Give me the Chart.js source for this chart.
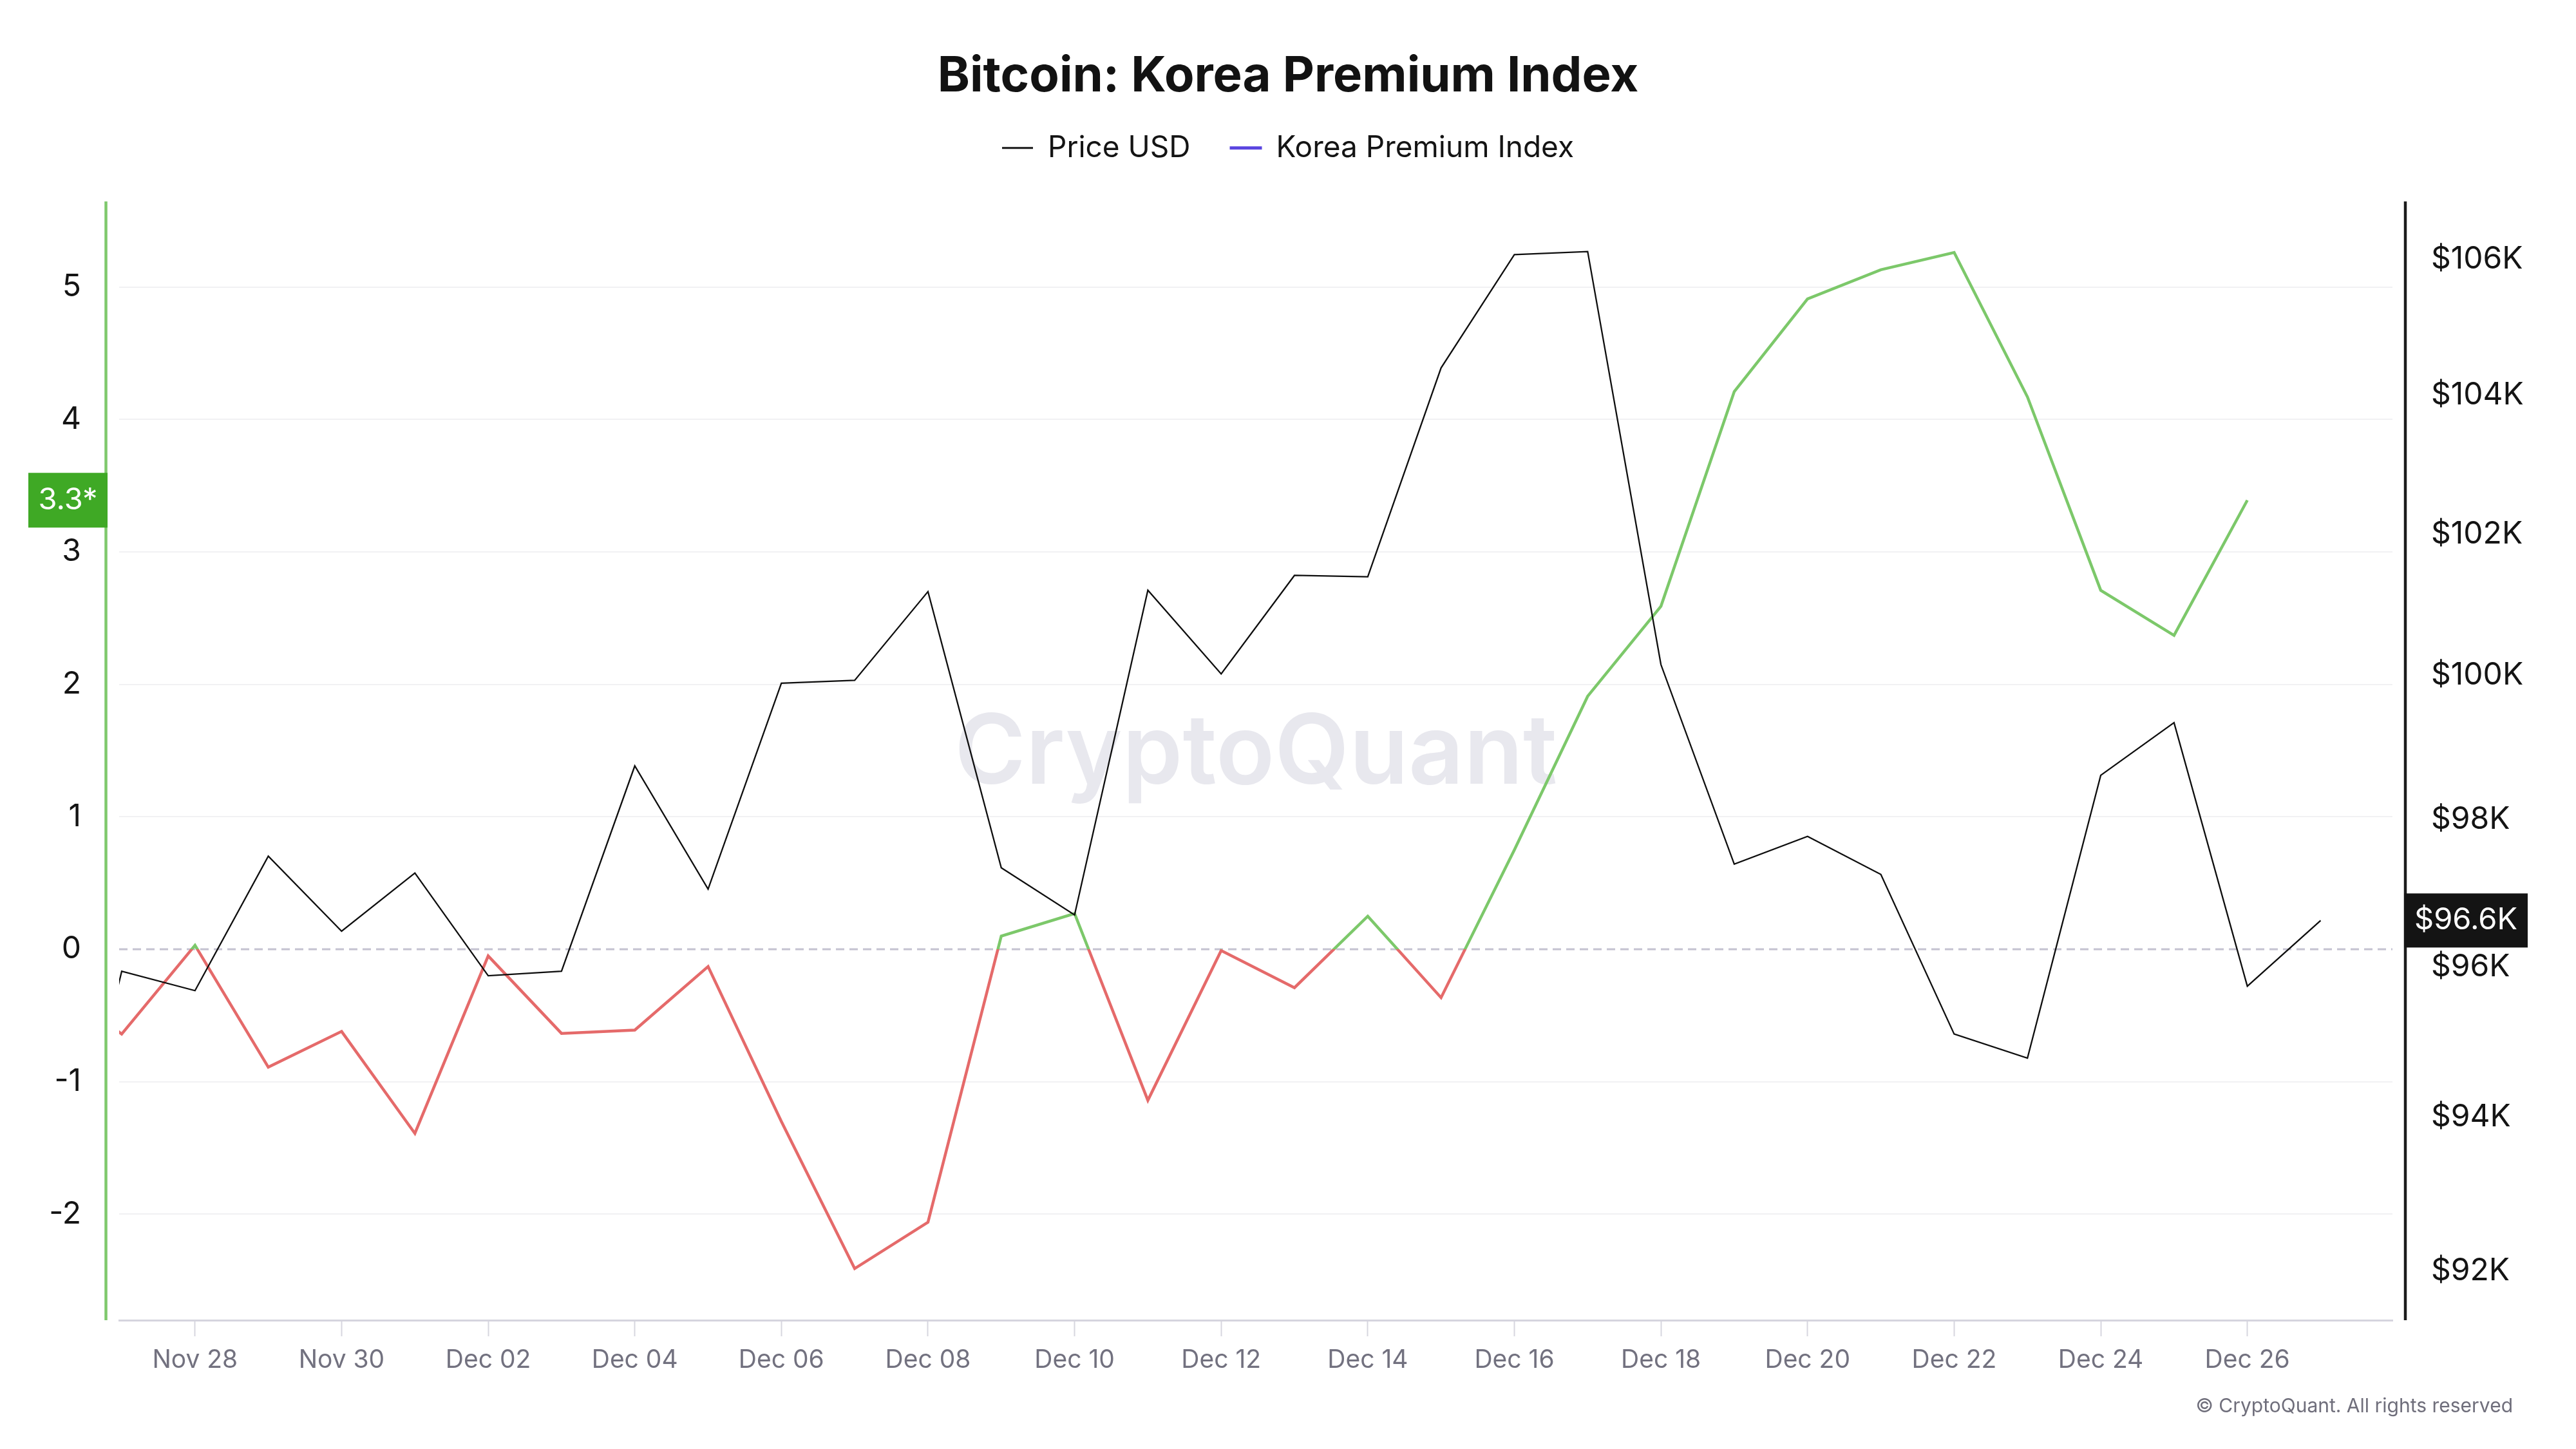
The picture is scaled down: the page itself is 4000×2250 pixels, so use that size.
<!DOCTYPE html>
<html>
<head>
<meta charset="utf-8">
<title>Bitcoin: Korea Premium Index</title>
<script src="https://cdn.jsdelivr.net/npm/chart.js@4.4.1/dist/chart.umd.min.js"></script>
<style>
  html, body { margin: 0; padding: 0; background: #ffffff; }
</style>
</head>
<body>
<canvas id="premiumChart" width="4000" height="2250"></canvas>
<script>
// daily points, Nov 26 is only partly visible at the left edge
const days = [
  'Nov 26', 'Nov 27', 'Nov 28', 'Nov 29', 'Nov 30', 'Dec 01', 'Dec 02', 'Dec 03',
  'Dec 04', 'Dec 05', 'Dec 06', 'Dec 07', 'Dec 08', 'Dec 09', 'Dec 10', 'Dec 11',
  'Dec 12', 'Dec 13', 'Dec 14', 'Dec 15', 'Dec 16', 'Dec 17', 'Dec 18', 'Dec 19',
  'Dec 20', 'Dec 21', 'Dec 22', 'Dec 23', 'Dec 24', 'Dec 25', 'Dec 26', 'Dec 27'
];
const priceUsd = [
  91900, 95940, 95680, 97500, 96480, 97270, 95880, 95940,
  98740, 97050, 99890, 99930, 101180, 97340, 96700, 101200,
  100020, 101410, 101390, 104400, 106070, 106115, 100150, 97390,
  97770, 97250, 95100, 94780, 98610, 99340, 95740, 96625
];
const koreaPremium = [
  -0.2, -0.64, 0.03, -0.89, -0.62, -1.39, -0.05, -0.635,
  -0.61, -0.13, -1.30, -2.41, -2.06, 0.10, 0.27, -1.14,
  -0.01, -0.29, 0.25, -0.365, 0.75, 1.91, 2.59, 4.21,
  4.91, 5.13, 5.26, 4.17, 2.71, 2.37, 3.39
];
const xTickLabels = [
  'Nov 28', 'Nov 30', 'Dec 02', 'Dec 04', 'Dec 06', 'Dec 08', 'Dec 10', 'Dec 12',
  'Dec 14', 'Dec 16', 'Dec 18', 'Dec 20', 'Dec 22', 'Dec 24', 'Dec 26'
];
const premiumTicks = [-2, -1, 0, 1, 2, 3, 4, 5];
const priceTicks = [92000, 94000, 96000, 98000, 100000, 102000, 104000, 106000];

const green = '#7cc86a';
const red = '#e56a6a';
const legendColors = ['#161616', '#5a45e0'];

Chart.defaults.font.family = 'Inter, "Noto Sans", sans-serif';
Chart.defaults.color = '#141414';

// green above zero, red below, switching exactly at the zero pixel
const premiumStroke = (context) => {
    const chart = context.chart;
    const area = chart.chartArea;
    if (!area) {
        return green;
    }
    const y0 = chart.scales.y.getPixelForValue(0);
    const stop = Math.min(1, Math.max(0, (y0 - area.top) / (area.bottom - area.top)));
    const g = chart.ctx.createLinearGradient(0, area.top, 0, area.bottom);
    g.addColorStop(0, green);
    g.addColorStop(stop, green);
    g.addColorStop(stop, red);
    g.addColorStop(1, red);
    return g;
};

const decor = {
    id: 'decor',
    beforeDatasetsDraw(chart) {
        const { ctx, chartArea: a, scales } = chart;
        ctx.save();
        ctx.font = '600 150px Inter';
        ctx.fillStyle = '#e8e8ee';
        ctx.textAlign = 'center';
        ctx.textBaseline = 'middle';
        ctx.fillText('CryptoQuant', (a.left + a.right) / 2, (a.top + a.bottom) / 2 - 9);

        const y0 = scales.y.getPixelForValue(0);
        ctx.setLineDash([13, 8]);
        ctx.lineWidth = 3;
        ctx.strokeStyle = '#c4c2d1';
        ctx.beginPath();
        ctx.moveTo(a.left, y0);
        ctx.lineTo(a.right, y0);
        ctx.stroke();
        ctx.restore();
    },
    afterDraw(chart) {
        const { ctx, chartArea: a, scales } = chart;
        ctx.save();
        // axis lines sit a little outside the plot area
        ctx.lineWidth = 4.5;
        ctx.strokeStyle = '#7ec86c';
        ctx.beginPath();
        ctx.moveTo(a.left - 20.5, a.top);
        ctx.lineTo(a.left - 20.5, a.bottom);
        ctx.stroke();
        ctx.strokeStyle = '#1c1c1c';
        ctx.beginPath();
        ctx.moveTo(a.right + 20, a.top);
        ctx.lineTo(a.right + 20, a.bottom);
        ctx.stroke();

        // last value badges
        ctx.textAlign = 'center';
        ctx.textBaseline = 'middle';
        ctx.font = '47px Inter';

        const lastPremium = koreaPremium[koreaPremium.length - 1];
        const py = scales.y.getPixelForValue(lastPremium);
        ctx.fillStyle = '#3fa925';
        ctx.fillRect(a.left - 141, py - 42.5, 123, 85);
        ctx.fillStyle = '#ffffff';
        ctx.fillText((Math.floor(lastPremium * 10) / 10) + '*', a.left - 79.5, py);

        const lastPrice = priceUsd[priceUsd.length - 1];
        const ry = scales.price.getPixelForValue(lastPrice);
        ctx.fillStyle = '#141414';
        ctx.fillRect(a.right + 18, ry - 42, 192, 84);
        ctx.fillStyle = '#ffffff';
        ctx.fillText('$' + (Math.floor(lastPrice / 100) / 10) + 'K', a.right + 114, ry);

        ctx.font = '30px Inter';
        ctx.fillStyle = '#6f6e7b';
        ctx.textAlign = 'right';
        ctx.textBaseline = 'alphabetic';
        ctx.fillText('\u00a9 CryptoQuant. All rights reserved', 3902, 2193);
        ctx.restore();
    }
};

const chart = new Chart('premiumChart', {
    type: 'line',
    data: {
        datasets: [
            {
                label: 'Price USD',
                data: priceUsd.map((v, i) => ({ x: i, y: v })),
                yAxisID: 'price',
                borderColor: '#0e0e0e',
                borderWidth: 2.3,
                pointRadius: 0,
            },
            {
                label: 'Korea Premium Index',
                data: koreaPremium.map((v, i) => ({ x: i, y: v })),
                yAxisID: 'y',
                borderColor: premiumStroke,
                borderWidth: 4.5,
                pointRadius: 0,
            },
        ],
    },
    options: {
        responsive: false,
        animation: false,
        events: [],
        layout: { padding: 0 },
        plugins: {
            title: {
                display: true,
                text: 'Bitcoin: Korea Premium Index',
                color: '#121212',
                font: { size: 76, weight: 'bold', lineHeight: 0.667 },
                padding: { top: 94, bottom: 0 },
            },
            // empty subtitle used as a spacer between legend and plot
            subtitle: {
                display: true,
                text: '',
                weight: 500,
                font: { size: 50, lineHeight: 1 },
                padding: 0,
            },
            legend: {
                display: true,
                labels: {
                    font: { size: 46 },
                    boxWidth: 48,
                    boxHeight: 3,
                    padding: 62,
                    generateLabels: (c) => c.data.datasets.map((ds, i) => ({
                        text: ds.label,
                        fillStyle: legendColors[i],
                        strokeStyle: legendColors[i],
                        lineWidth: i === 1 ? 2 : 0,
                        fontColor: '#141414',
                        hidden: !c.isDatasetVisible(i),
                        datasetIndex: i,
                    })),
                },
            },
            tooltip: { enabled: false },
        },
        scales: {
            x: {
                type: 'linear',
                min: 0.965,
                max: 31.98,
                afterBuildTicks: (s) => { s.ticks = xTickLabels.map((l) => ({ value: days.indexOf(l) })); },
                afterFit: (s) => { s.height = 200; },
                ticks: {
                    callback: (v) => days[v],
                    color: '#72717f',
                    font: { size: 39 },
                    padding: 14,
                    autoSkip: false,
                    maxRotation: 0,
                },
                grid: { drawOnChartArea: false, tickLength: 25, tickColor: '#d7d6df', tickWidth: 2 },
                border: { color: '#d5d4de', width: 3 },
            },
            y: {
                position: 'left',
                min: -2.8,
                max: 5.646,
                afterBuildTicks: (s) => { s.ticks = premiumTicks.map((v) => ({ value: v })); },
                afterFit: (s) => { s.width = 185; },
                ticks: { color: '#141414', font: { size: 48 }, padding: 59 },
                grid: {
                    color: (c) => (c.tick && c.tick.value === 0 ? 'rgba(0,0,0,0)' : '#f1f1f3'),
                    lineWidth: 2,
                    drawTicks: false,
                },
                border: { display: false },
            },
            price: {
                type: 'logarithmic',
                position: 'right',
                min: 91364,
                max: 106864,
                afterBuildTicks: (s) => { s.ticks = priceTicks.map((v) => ({ value: v })); },
                afterFit: (s) => { s.width = 285; },
                ticks: {
                    callback: (v) => '$' + v / 1000 + 'K',
                    color: '#141414',
                    font: { size: 48 },
                    padding: 60,
                },
                grid: { display: false, drawTicks: false },
                border: { display: false },
            },
        },
    },
    plugins: [decor],
});
</script>
</body>
</html>
